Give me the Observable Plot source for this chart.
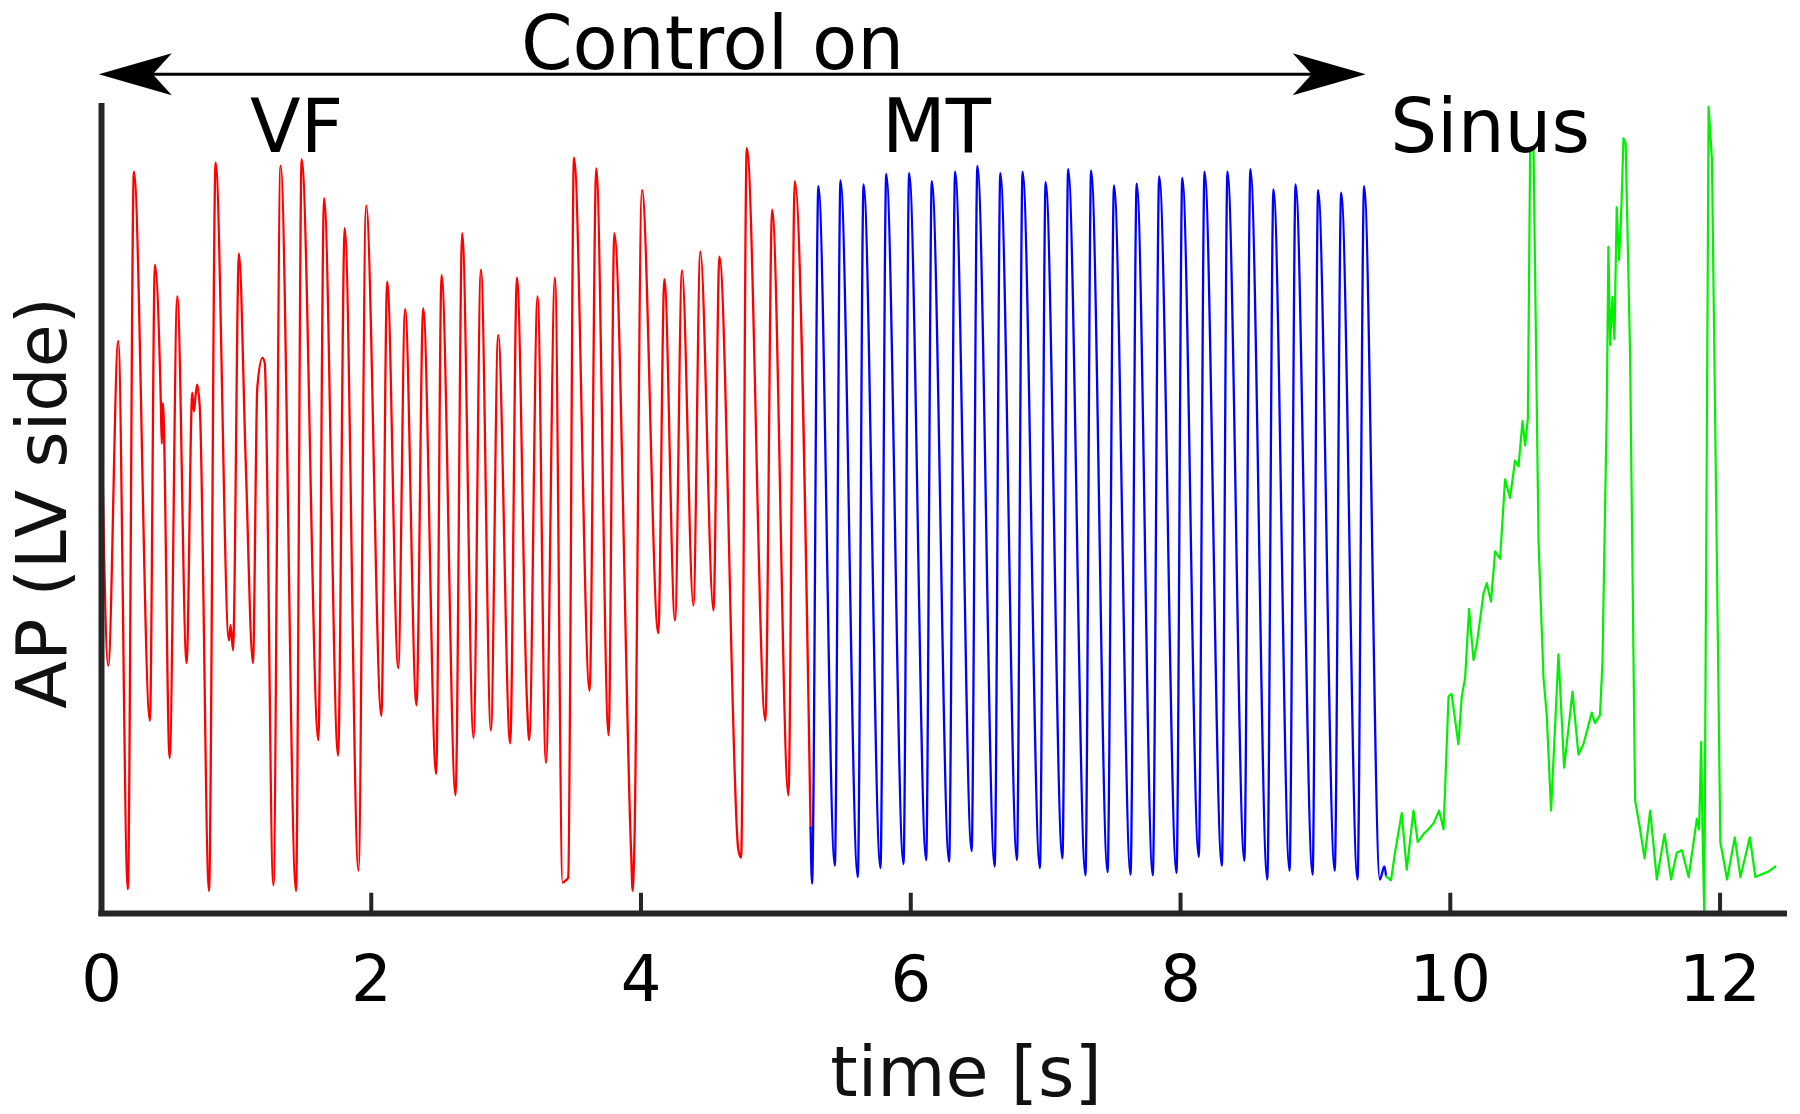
<!DOCTYPE html>
<html>
<head>
<meta charset="utf-8">
<script src="https://cdn.jsdelivr.net/npm/d3@7"></script>
<script src="https://cdn.jsdelivr.net/npm/@observablehq/plot@0.6"></script>
<style>
  html, body { margin: 0; padding: 0; background: #ffffff; }
  #chart svg { display: block; }
</style>
</head>
<body>
<div id="chart"></div>
<script>
// ---- Data (time in s, AP in arbitrary units 0..100) ----
const redT = [0, 0.05, 0.124, 0.195, 0.24, 0.359, 0.396, 0.44, 0.447, 0.455, 0.505, 0.562, 0.631, 0.673, 0.685, 0.698, 0.71, 0.73, 0.797, 0.846, 0.945, 0.957, 0.975, 1.019, 1.069, 1.123, 1.155, 1.193, 1.21, 1.274, 1.328, 1.442, 1.484, 1.608, 1.65, 1.754, 1.803, 1.905, 1.962, 2.075, 2.118, 2.2, 2.251, 2.335, 2.385, 2.481, 2.521, 2.625, 2.674, 2.758, 2.813, 2.887, 2.941, 3.03, 3.08, 3.154, 3.171, 3.233, 3.295, 3.362, 3.419, 3.443, 3.46, 3.503, 3.619, 3.668, 3.76, 3.802, 3.926, 3.938, 3.95, 4.007, 4.128, 4.173, 4.252, 4.304, 4.388, 4.44, 4.537, 4.581, 4.722, 4.742, 4.784, 4.922, 4.972, 5.093, 5.14, 5.257];
const redV = [62.1, 30.6, 70.7, 3.0, 91.6, 23.8, 80.1, 63, 58, 63, 19.2, 76.2, 30.9, 64.3, 62, 64, 65.3, 62, 2.8, 92.7, 33.7, 35.6, 32.5, 81.5, 55.9, 30.9, 64.9, 68.6, 68, 3.5, 92.3, 2.8, 93.1, 21.4, 88.3, 19.5, 84.6, 5.3, 87.4, 24.4, 78, 30.3, 74.6, 25.7, 74.7, 17.2, 78.8, 14.6, 84, 21.7, 79.5, 22.6, 71.4, 21, 78.5, 26.3, 21.4, 76.2, 18.6, 78.5, 3.8, 4.1, 4.4, 93.3, 27.5, 92, 22, 84, 7.8, 2.8, 7.8, 89.3, 34.6, 78.3, 36.2, 79.4, 38, 81.7, 37.4, 81.1, 7.8, 6.9, 94.5, 23.8, 86.9, 14.6, 90.4, 10.6];

const blueT = [5.257, 5.268, 5.315, 5.437, 5.479, 5.607, 5.65, 5.775, 5.818, 5.946, 5.988, 6.114, 6.156, 6.284, 6.329, 6.451, 6.494, 6.622, 6.664, 6.787, 6.829, 6.957, 7.0, 7.124, 7.167, 7.295, 7.337, 7.459, 7.507, 7.629, 7.675, 7.794, 7.842, 7.97, 8.013, 8.135, 8.178, 8.306, 8.348, 8.473, 8.518, 8.643, 8.689, 8.808, 8.853, 8.979, 9.02, 9.143, 9.191, 9.312, 9.361, 9.478, 9.511, 9.524];
const blueV = [10.6, 3.7, 89.8, 5.9, 90.5, 4.5, 90, 5.6, 91.3, 6.1, 91.4, 6.6, 90.4, 6.4, 91.6, 7.7, 92.3, 5.8, 91.4, 6.6, 91.6, 5.6, 90.3, 6.8, 91.9, 4.7, 91.7, 5.1, 89.9, 4.8, 90.1, 4.7, 91, 5, 90.8, 7, 91.6, 5.9, 91.6, 6.5, 91.9, 4.2, 89.4, 5.3, 90, 4.8, 89.3, 5.3, 89, 4.2, 89.8, 4.2, 5.8, 4.6];

const greenT = [9.524, 9.56, 9.59, 9.64, 9.677, 9.727, 9.759, 9.801, 9.838, 9.875, 9.917, 9.95, 9.987, 10.01, 10.06, 10.085, 10.11, 10.139, 10.172, 10.197, 10.246, 10.27, 10.302, 10.332, 10.369, 10.406, 10.443, 10.48, 10.506, 10.535, 10.555, 10.575, 10.592, 10.617, 10.654, 10.691, 10.715, 10.747, 10.802, 10.844, 10.906, 10.95, 10.987, 11.049, 11.073, 11.11, 11.128, 11.16, 11.172, 11.185, 11.202, 11.217, 11.234, 11.251, 11.266, 11.284, 11.3, 11.333, 11.37, 11.407, 11.44, 11.482, 11.531, 11.588, 11.637, 11.679, 11.717, 11.767, 11.828, 11.845, 11.86, 11.87, 11.883, 11.915, 11.94, 11.977, 12.002, 12.052, 12.109, 12.151, 12.221, 12.262, 12.361, 12.41];
const greenV = [4.6, 4.1, 7.5, 12.4, 5.4, 12.7, 8.8, 9.8, 10.4, 11.1, 12.7, 10.4, 26.8, 27.1, 20.9, 26.8, 29.1, 37.6, 31.3, 33.3, 39.5, 40.8, 38.5, 44.7, 43.8, 53.6, 51.3, 55.9, 55.2, 60.8, 57.8, 61.1, 94.4, 94.4, 46, 29.1, 24.5, 12.7, 32, 18, 27.4, 19.6, 20.9, 24.8, 23.5, 24.5, 31, 62.4, 82.3, 70.2, 76.1, 70.9, 87.2, 80.7, 85.9, 95.7, 95.1, 68.9, 14, 10.4, 6.8, 12.7, 4.2, 9.8, 4.2, 7.5, 7.8, 4.5, 11.7, 10.4, 21.2, 10.1, 0, 99.6, 93.1, 42.8, 8.8, 4.2, 9.4, 4.5, 9.4, 4.5, 5.2, 5.8];

const xTicks = [0, 2, 4, 6, 8, 10, 12];
const phaseLabels = ["VF", "MT", "Sinus"];
const phaseX = [1.447, 6.19, 10.295];
const phaseY = 94;
const controlLabel = "Control on";
const controlX = 4.53;
const controlY = 104.2;
const arrowEnds = [-0.02, 9.373];
const arrowY = 103.6;
const xLabel = "time [s]";
const yLabel = "AP (LV side)";

// ---- Build tables ----
const toRows = (T, V) => T.map((t, i) => ({t, v: V[i]}));
const red = toRows(redT, redV);
const blue = toRows(blueT, blueV);
const green = toRows(greenT, greenV);
const phases = phaseLabels.map((s, i) => ({s, t: phaseX[i], v: phaseY}));
const arrowHeads = arrowEnds.map((t, i) => ({t, v: arrowY, rot: i === 0 ? 0 : 180}));

const FONT = "DejaVu Sans";
const AXIS = "#262626";

// stealth-style arrowhead pointing left, tip at origin
const headSymbol = {
  draw(ctx) {
    ctx.moveTo(0, 0);
    ctx.lineTo(73, -21);
    ctx.lineTo(54, 0);
    ctx.lineTo(73, 21);
    ctx.closePath();
  }
};

const chart = Plot.plot({
  width: 1800,
  height: 1114,
  marginLeft: 101,
  marginRight: 13,
  marginTop: 103,
  marginBottom: 201,
  style: {background: "#ffffff", fontFamily: FONT},
  x: {domain: [0, 12.5], axis: null},
  y: {domain: [0, 100], axis: null},
  marks: [
    Plot.line(red, {x: "t", y: "v", stroke: "#ff0000", strokeWidth: 2.3, curve: "monotone-x"}),
    Plot.line(blue, {x: "t", y: "v", stroke: "#0000ff", strokeWidth: 2.3, curve: "monotone-x"}),
    Plot.line(green, {x: "t", y: "v", stroke: "#00f000", strokeWidth: 2.2}),
    // axes lines
    Plot.ruleY([0], {x1: -0.02, x2: 12.5, stroke: AXIS, strokeWidth: 6}),
    Plot.ruleX([0], {y1: -0.3, y2: 100, stroke: AXIS, strokeWidth: 6}),
    // inward ticks
    Plot.ruleX(xTicks, {x: d => d, y1: 0, y2: 2.5, stroke: AXIS, strokeWidth: 4}),
    Plot.axisX({ticks: xTicks, tickSize: 0, tickPadding: 42, fontSize: 64, fontFamily: FONT, label: null, tickFormat: d => String(d)}),
    // axis labels
    Plot.text([xLabel], {x: 6.41, y: -22.5, text: d => d, fontSize: 70, fontFamily: FONT, lineAnchor: "bottom", fill: "#111"}),
    Plot.text([yLabel], {x: -0.43, y: 50.7, text: d => d, fontSize: 70, fontFamily: FONT, rotate: -90, lineAnchor: "middle", fill: "#111"}),
    // control-on arrow
    Plot.link([arrowEnds], {x1: d => d[0] + 0.3, x2: d => d[1] - 0.3, y1: arrowY, y2: arrowY, stroke: "#000", strokeWidth: 3}),
    Plot.dot(arrowHeads, {x: "t", y: "v", rotate: "rot", symbol: headSymbol, fill: "#000", stroke: "none", r: 10}),
    Plot.text([controlLabel], {x: controlX, y: controlY, text: d => d, fontSize: 74, fontFamily: FONT, lineAnchor: "bottom", fill: "#000"}),
    // phase labels
    Plot.text(phases, {x: "t", y: "v", text: "s", fontSize: 74, fontFamily: FONT, lineAnchor: "bottom", fill: "#000"})
  ]
});

document.getElementById("chart").appendChild(chart);
</script>
</body>
</html>
